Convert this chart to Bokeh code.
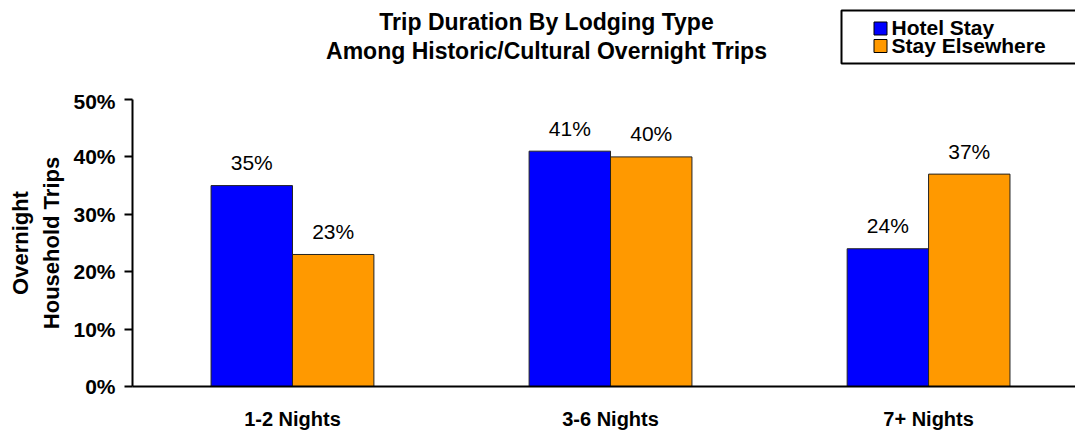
from bokeh.plotting import figure
from bokeh.layouts import column
from bokeh.models import (ColumnDataSource, Range1d, FixedTicker, PrintfTickFormatter)
from bokeh.transform import dodge
from bokeh.core.properties import value
from bokeh.embed import file_html
from bokeh.resources import INLINE

# Share of overnight household trips (%) by trip length and lodging type
categories = ["1-2 Nights", "3-6 Nights", "7+ Nights"]
hotel_stay = [35, 41, 24]
stay_elsewhere = [23, 40, 37]
series_names = ["Hotel Stay", "Stay Elsewhere"]
title_lines = ["Trip Duration By Lodging Type", "Among Historic/Cultural Overnight Trips"]
y_ticks = [0, 10, 20, 30, 40, 50]

FONT = "Liberation Sans"
BLUE = "#0000FF"
ORANGE = "#FF9900"
series_colors = [BLUE, ORANGE]
BAR_W = 0.256
W = 1075
HEAD_H = 89
LEFT = 132

# ---------- header strip: title and legend (pixel coordinates, y downward) ----------
head = figure(width=W, height=HEAD_H, output_backend="svg", toolbar_location=None,
              x_range=Range1d(LEFT, W), y_range=Range1d(HEAD_H, 0),
              x_axis_type=None, y_axis_type=None, min_border=0,
              min_border_left=LEFT)
head.outline_line_color = None
head.xgrid.visible = False
head.ygrid.visible = False

head.text(x=[546] * len(title_lines), y=[21 + 29 * i for i in range(len(title_lines))],
          text=title_lines, text_font=value(FONT), text_font_style="bold",
          text_font_size="23px", text_color="black", text_align="center",
          text_baseline="middle")

# legend frame, swatches and labels
head.quad(left=[841], right=[W + 10], top=[10], bottom=[63],
          fill_color="white", line_color="black", line_width=2)
rows = list(range(len(series_names)))
head.rect(x=[880] * len(rows), y=[28 + 17.5 * i for i in rows], width=13, height=13,
          fill_color=series_colors, line_color="black", line_width=1)
head.text(x=[891] * len(rows), y=[27 + 17.5 * i for i in rows], text=series_names,
          text_font=value(FONT), text_font_style="bold", text_font_size="21px",
          text_color="black", text_align="left", text_baseline="middle")

# ---------- main bar chart ----------
xs = list(range(len(categories)))
src = ColumnDataSource(dict(
    x=xs,
    hotel=hotel_stay,
    elsewhere=stay_elsewhere,
    hotel_lbl=[f"{v}%" for v in hotel_stay],
    elsewhere_lbl=[f"{v}%" for v in stay_elsewhere],
))

p = figure(width=W, height=432 - HEAD_H, output_backend="svg", toolbar_location=None,
           x_range=Range1d(-0.503, 2.462), y_range=Range1d(0, 50),
           min_border_left=LEFT, min_border_right=0, min_border_top=10,
           min_border_bottom=46)
p.outline_line_color = None
p.xgrid.visible = False
p.ygrid.visible = False

bar_line = "#222222"
p.vbar(x=dodge("x", -BAR_W / 2, range=p.x_range), top="hotel", width=BAR_W,
       source=src, fill_color=BLUE, line_color=bar_line, line_width=1)
p.vbar(x=dodge("x", BAR_W / 2, range=p.x_range), top="elsewhere", width=BAR_W,
       source=src, fill_color=ORANGE, line_color=bar_line, line_width=1)

# value labels above bars
for col, lbl, off in (("hotel", "hotel_lbl", -BAR_W / 2),
                      ("elsewhere", "elsewhere_lbl", BAR_W / 2)):
    p.text(x=dodge("x", off, range=p.x_range), y=col, text=lbl, source=src,
           text_font=value(FONT), text_font_size="21px", text_color="black",
           text_align="center", text_baseline="middle", y_offset=-23)

# y axis
ya = p.yaxis[0]
ya.ticker = FixedTicker(ticks=y_ticks)
ya.formatter = PrintfTickFormatter(format="%d%%")
ya.minor_tick_line_color = None
ya.major_tick_out = 8
ya.major_tick_in = 0
ya.major_tick_line_width = 2
ya.axis_line_width = 2
ya.axis_line_color = "black"
ya.major_tick_line_color = "black"
ya.major_label_text_font = FONT
ya.major_label_text_font_style = "bold"
ya.major_label_text_font_size = "21px"
ya.major_label_text_color = "black"
ya.major_label_standoff = 9
ya.axis_label = "Overnight\nHousehold Trips"
ya.axis_label_text_font = FONT
ya.axis_label_text_font_style = "bold"
ya.axis_label_text_font_size = "22px"
ya.axis_label_text_line_height = 1.27
ya.axis_label_text_color = "black"
ya.axis_label_standoff = 6

# x axis
xa = p.xaxis[0]
xa.ticker = FixedTicker(ticks=xs)
xa.major_label_overrides = {i: c for i, c in zip(xs, categories)}
xa.minor_tick_line_color = None
xa.major_tick_line_color = None
xa.axis_line_width = 2
xa.axis_line_color = "black"
xa.major_label_text_font = FONT
xa.major_label_text_font_style = "bold"
xa.major_label_text_font_size = "20px"
xa.major_label_text_color = "black"
xa.major_label_standoff = 15

layout = column(head, p, spacing=0)
open("out.html", "w").write(file_html(layout, INLINE))
